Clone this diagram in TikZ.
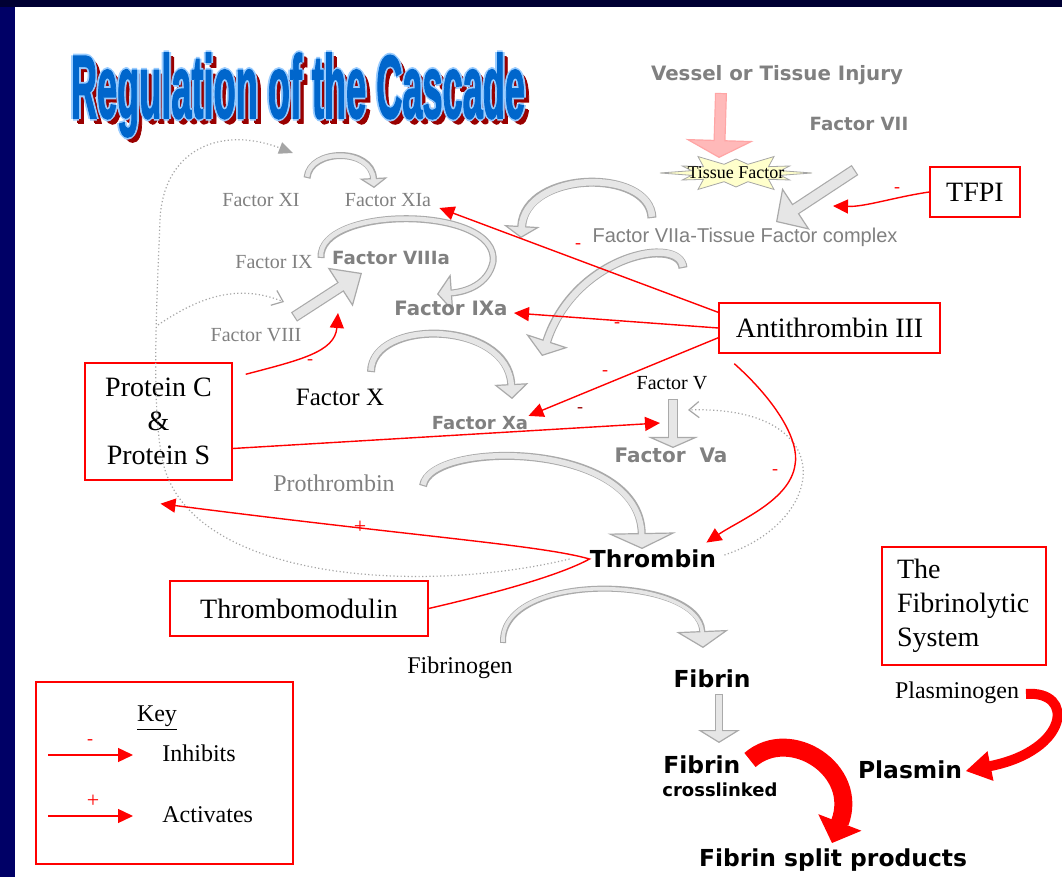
\documentclass[tikz,border=0pt]{standalone}
\usepackage{fontspec}
\setmainfont{Liberation Serif}
\setsansfont{DejaVu Sans}
\newfontfamily\arialfont{Liberation Sans}
\newfontfamily\titlefont[FakeBold=2]{Liberation Sans Bold}
\usepackage{graphicx}
\usetikzlibrary{arrows.meta,positioning,calc}
\definecolor{slideNavy}{RGB}{0,0,102}
\definecolor{slideTop}{RGB}{0,0,51}
\definecolor{gedge}{RGB}{170,170,170}
\definecolor{gfill}{RGB}{230,230,230}
\definecolor{pedge}{RGB}{255,165,165}
\definecolor{pfill}{RGB}{255,185,185}
\definecolor{redge}{RGB}{255,0,0}
\definecolor{rfill}{RGB}{255,0,0}
\definecolor{labelgray}{RGB}{128,128,128}
\definecolor{dotgray}{RGB}{165,165,165}
\definecolor{starFill}{RGB}{255,255,204}
\definecolor{titleBlue}{RGB}{0,102,204}
\definecolor{titleLight}{RGB}{153,204,255}
\definecolor{titleShadow}{RGB}{153,0,0}
% clip-art block arrow: shaft width, head width, head length, path
\newcommand{\blockarrow}[5][g]{%
  \draw[#1edge, line width=#2, -{Triangle[width=#3, length=#4, line width=0.6pt, fill=#1fill]}] #5;
  \draw[#1fill, line width=#2-1.2pt, shorten >=#4-1pt, shorten <=0.6pt] #5;}
\newcommand{\cascadetitle}{\resizebox*{227pt}{42pt}{\titlefont Regulation of the Cascade}}

\begin{document}
\begin{tikzpicture}[x=0.5pt, y=-0.5pt,
    ttl/.style={anchor=base, inner sep=0pt},
    box/.style={draw=red, line width=0.7pt, inner sep=0pt, align=center, font=\fontsize{14}{17}\selectfont},
    glabel/.style={text=labelgray, inner sep=0pt, font=\fontsize{10}{12}\selectfont},
    tlabel/.style={inner sep=0pt, font=\fontsize{12}{14}\selectfont},
    gbold/.style={text=labelgray, inner sep=0pt, font=\sffamily\bfseries\fontsize{9.5}{11}\selectfont},
    kbold/.style={inner sep=0pt, font=\sffamily\bfseries\fontsize{11.7}{14}\selectfont},
    inh/.style={red, line width=0.7pt, -{Triangle[length=7.5pt, width=7pt]}},
    sgn/.style={text=red, inner sep=0pt, font=\fontsize{9}{9}\selectfont},
    psgn/.style={sgn, font=\fontsize{11}{11}\selectfont},
    dots/.style={dotgray, line width=0.6pt, dash pattern=on 0.6pt off 1.2pt}]
  % slide background
  \fill[slideNavy] (0,0) rectangle (1062,877);
  \fill[slideTop] (0,0) rectangle (1062,7);
  \fill[white] (15,7) rectangle (1062,877);
  \useasboundingbox (0,0) rectangle (1062,877);

  % title: shadow, light outline, blue face
  \foreach \dx/\dy [count=\i] in {4/4,5/5}
    \node[ttl, text=titleShadow] (ttlsh\i) at ({298+\dx},{118+\dy}) {\cascadetitle};
  \foreach \dx/\dy [count=\i] in {1.8/0,-1.8/0,0/1.8,0/-1.8}
    \node[ttl, text=titleLight] (ttlol\i) at ({298+\dx},{118+\dy}) {\cascadetitle};
  \node[ttl, text=titleBlue] (title) at (298,118) {\cascadetitle};

  % gray conversion arrows
  \blockarrow[p]{6pt}{34pt}{9pt}{(721,93) -- (719,158)}
  \blockarrow{6pt}{25pt}{12pt}{(855,170) -- (776,222)}
  \blockarrow{3.5pt}{14pt}{5pt}{(307,178) .. controls (310,148) and (372,148) .. (374,188)}
  \blockarrow{4.5pt}{18pt}{6pt}{(652,218) .. controls (650,168) and (525,170) .. (521,238)}
  \blockarrow{3.5pt}{19pt}{7.5pt}{(321,258) .. controls (318,205) and (500,205) .. (493,262) .. controls (488,285) and (465,292) .. (437,294)}
  \blockarrow{5.5pt}{23pt}{13pt}{(294,317) -- (362,273)}
  \blockarrow{4.5pt}{22pt}{8pt}{(683,268) .. controls (680,235) and (575,255) .. (542,356)}
  \blockarrow{4pt}{17pt}{7.5pt}{(371,372) .. controls (372,318) and (508,320) .. (512,399)}
  \blockarrow{5pt}{25pt}{5.5pt}{(673,399) -- (673,448)}
  \blockarrow{4pt}{34pt}{8pt}{(423,486) .. controls (430,440) and (640,440) .. (642,549)}
  \blockarrow{3pt}{26pt}{8.5pt}{(503,643) .. controls (500,570) and (700,575) .. (703,648)}
  \blockarrow{4pt}{21pt}{6.5pt}{(719,694) -- (719,743)}
  % fibrinolysis arrows
  \blockarrow[r]{9pt}{23pt}{11pt}{(750,760) .. controls (790,725) and (860,770) .. (832,843)}
  \blockarrow[r]{5pt}{15pt}{12.5pt}{(1026,694) .. controls (1075,690) and (1070,750) .. (966,771)}

  % tissue factor burst
  \filldraw[fill=starFill, draw=gray!70, line width=0.4pt]
    plot[variable=\k, samples at={0,...,23}]
      ({736+(1-mod(\k,2))*(76-14*mod(\k/2,2))*cos(15*\k)+mod(\k,2)*46*cos(15*\k)},
       {173+(1-mod(\k,2))*(19-5*mod(\k/2,2))*sin(15*\k)+mod(\k,2)*9*sin(15*\k)}) -- cycle;

  % labels
  \node[gbold, font=\sffamily\bfseries\fontsize{9.9}{12}\selectfont] (injury) at (777,75) {Vessel or Tissue Injury};
  \node[gbold, font=\sffamily\bfseries\fontsize{9.1}{11}\selectfont] (f7) at (859,124) {Factor VII};
  \node[inner sep=0pt, font=\fontsize{9}{10}\selectfont] (tf) at (736,173) {Tissue Factor};
  \node[text=labelgray, inner sep=0pt, font=\arialfont\fontsize{10}{12}\selectfont] (f7atf) at (745,237) {Factor VIIa-Tissue Factor complex};
  \node[glabel] (f11) at (261,200) {Factor XI};
  \node[glabel] (f11a) at (388,200) {Factor XIa};
  \node[glabel] (f9) at (274,262) {Factor IX};
  \node[gbold, font=\sffamily\bfseries\fontsize{9.1}{11}\selectfont] (f8a) at (391,258) {Factor VIIIa};
  \node[gbold, font=\sffamily\bfseries\fontsize{9.9}{11}\selectfont] (f9a) at (451,308) {Factor IXa};
  \node[glabel] (f8) at (256,335) {Factor VIII};
  \node[tlabel, font=\fontsize{12.5}{14}\selectfont] (f10) at (340,397) {Factor X};
  \node[gbold, font=\sffamily\bfseries\fontsize{9}{11}\selectfont] (f10a) at (480,423) {Factor Xa};
  \node[inner sep=0pt, font=\fontsize{10}{12}\selectfont] (f5) at (672,383) {Factor V};
  \node[gbold, font=\sffamily\bfseries\fontsize{10}{12}\selectfont] (f5a) at (671,455) {Factor\ \ Va};
  \node[glabel, font=\fontsize{12}{14}\selectfont] (prothr) at (334,483) {Prothrombin};
  \node[kbold] (thr) at (653,559) {Thrombin};
  \node[tlabel] (fbg) at (460,668) {Fibrinogen};
  \node[kbold] (fbn) at (712,679) {Fibrin};
  \node[kbold, anchor=west] (fbnx) at (663,765) {Fibrin};
  \node[kbold, anchor=west, font=\sffamily\bfseries\fontsize{9}{11}\selectfont] (xlnk) at (662,790) {crosslinked};
  \node[kbold] (fsp) at (833,860) {Fibrin split products};
  \node[kbold] (pls) at (910,770) {Plasmin};
  \node[tlabel] (plg) at (957,693) {Plasminogen};

  % regulator boxes
  \node[box, minimum width=45pt, minimum height=25pt] (tfpi) at (975,192) {TFPI};
  \node[box, minimum width=110.5pt, minimum height=25pt] (at3) at (829.5,328) {Antithrombin III};
  \node[box, minimum width=73.5pt, minimum height=58.5pt] (protcs) at (158.5,421.5) {Protein C\\\&\\Protein S};
  \node[box, minimum width=129pt, minimum height=27.5pt] (tmod) at (299,608.5) {Thrombomodulin};
  \node[box, align=left, text width=67pt, inner xsep=7.5pt, minimum height=59pt] (fibsys) at (964,606) {The\\Fibrinolytic\\System};

  % dotted feedback loops
  \coordinate (xiin) at (293,153);
  \coordinate (loopmid) at (158,325);
  \coordinate (viiiin) at (284,302);
  \coordinate (vin) at (688,410);
  \draw[dots, -{Triangle[length=7pt, width=6pt]}] ($(thr.west)+(-20,0)$) .. controls (420,595) and (200,580) .. (165,470)
    .. controls (150,420) and (157,300) .. (160,220) .. controls (163,150) and (220,125) .. (xiin);
  \draw[dots, -{Straight Barb[length=5pt, width=8pt]}] (loopmid) .. controls (195,300) and (235,282) .. (viiiin);
  \draw[dots, -{Straight Barb[length=5pt, width=8pt]}] ($(thr.east)+(8,-4)$) .. controls (830,520) and (840,405) .. (vin);

  % inhibition and activation
  \coordinate (f7arr) at (833,206);
  \coordinate (f8arr) at (338,313);
  \coordinate (f5arr) at (660,423);
  \draw[inh] (tfpi.west) .. controls (895,197) and (865,207) .. (f7arr);
  \draw[inh] (at3.172) -- ($(f11a.east)+(8,8)$);
  \draw[inh] (at3.west) -- ($(f9a.east)+(6,5)$);
  \draw[inh] (at3.185) -- (f10a.north east);
  \draw[inh] ($(at3.south west)+(16,10)$) .. controls (775,400) and (800,440) .. (795,465)
    .. controls (790,500) and (740,520) .. ($(thr.north east)+(-10,-7)$);
  \draw[inh] ($(protcs.north east)+(13,12)$) .. controls (300,360) and (335,352) .. (f8arr);
  \draw[inh] (protcs.-20) -- (f5arr);
  \draw[inh] (tmod.east) .. controls (500,592) and (560,575) .. (thr.west)
    .. controls (540,545) and (420,537) .. ($(protcs.south)+(2,23)$);
  \node[sgn] (mtfpi) at (897,190) {-};
  \node[sgn] (mxia) at (578,246) {-};
  \node[sgn] (mixa) at (617,325) {-};
  \node[sgn] (mxa) at (605,373) {-};
  \node[sgn] (mthr) at (775,472) {-};
  \node[sgn] (mviiia) at (310,362) {-};
  \node[sgn, text=red!60!black] (mva) at (580,410) {-};
  \node[psgn] (ptm) at (360,527) {+};

  % key
  \node[box, minimum width=128.5pt, minimum height=91pt] (key) at (164.5,773) {};
  \node[tlabel] (keyhd) at (157,718) {\underline{Key}};
  \node[tlabel, anchor=west] (inhib) at (162,753) {Inhibits};
  \node[tlabel, anchor=west] (activ) at (162,815) {Activates};
  \draw[inh] ($(inhib.west)+(-114,2)$) -- ($(inhib.west)+(-29,2)$);
  \draw[inh] ($(activ.west)+(-114,1)$) -- ($(activ.west)+(-29,1)$);
  \node[sgn] (kminus) at (90,742) {-};
  \node[psgn] (kplus) at (93,801) {+};
\end{tikzpicture}
\end{document}
